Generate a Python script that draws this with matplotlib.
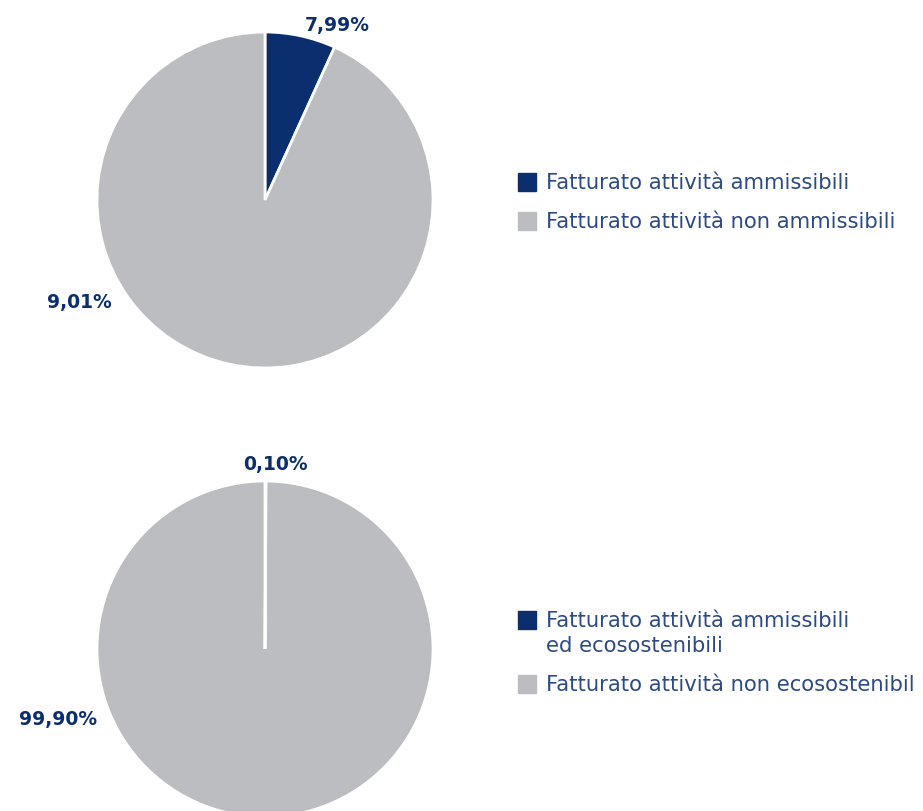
import matplotlib.pyplot as plt
from matplotlib.patches import Rectangle

W, H = 923, 812

# data
top_values = [6.8, 93.2]
top_labels = ['7,99%', '9,01%']
top_legend = ['Fatturato attività ammissibili', 'Fatturato attività non ammissibili']

bottom_values = [0.10, 99.90]
bottom_labels = ['0,10%', '99,90%']
bottom_legend = ['Fatturato attività ammissibili\ned ecosostenibili', 'Fatturato attività non ecosostenibil']

blue = '#0b2f6e'
grey = '#bcbdc0'
text_blue = '#2b4a86'
colors = [blue, grey]


def fx(x):
    return x / W


def fy(y):
    return 1 - y / H


fig = plt.figure(figsize=(W / 100, H / 100), dpi=100)
plt.rcParams['font.family'] = ['DejaVu Sans']


def draw_pie(cy, values):
    r = 168
    ax = fig.add_axes([fx(265 - r), fy(cy + r), 2 * r / W, 2 * r / H])
    ax.pie(values, colors=colors, startangle=90, counterclock=False,
           wedgeprops={'edgecolor': 'white', 'linewidth': 2})
    ax.set_xlim(-1, 1)
    ax.set_ylim(-1, 1)
    ax.set_aspect('auto')
    ax.axis('off')
    return ax


draw_pie(201, top_values)
draw_pie(650, bottom_values)

# percentage labels
label_pos = [(337, 25), (79, 303), (275, 465), (58, 720)]
for (x, y), txt in zip(label_pos, top_labels + bottom_labels):
    fig.text(fx(x), fy(y), txt, ha='center', va='center', fontsize=13.5,
             fontweight='bold', color=blue)


def legend(items, rows):
    for (txt, c), y in zip(zip(items, colors), rows):
        fig.patches.append(Rectangle((fx(518), fy(y + 9)), 18 / W, 18 / H,
                                     transform=fig.transFigure, color=c))
        fig.text(fx(546), fy(y - 10), txt, ha='left', va='top', fontsize=15.2,
                 color=text_blue, linespacing=1.3)


legend(top_legend, [183, 222])
legend(bottom_legend, [621, 685])

fig.savefig('out.png', dpi=100)
